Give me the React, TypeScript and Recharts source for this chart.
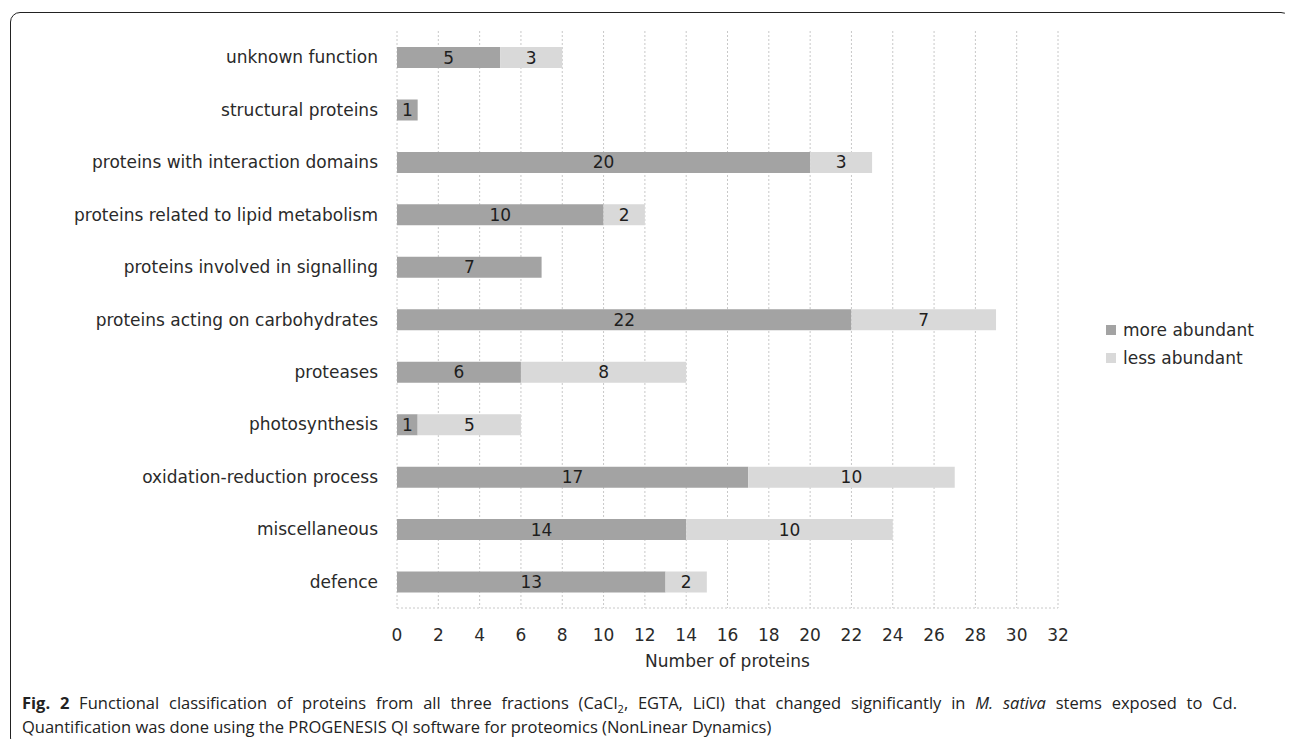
import { BarChart, Bar, XAxis, YAxis, CartesianGrid, Legend, LabelList } from 'recharts'

// functional classes, top to bottom
const categories = [
  'unknown function',
  'structural proteins',
  'proteins with interaction domains',
  'proteins related to lipid metabolism',
  'proteins involved in signalling',
  'proteins acting on carbohydrates',
  'proteases',
  'photosynthesis',
  'oxidation-reduction process',
  'miscellaneous',
  'defence',
]
const moreAbundant = [5, 1, 20, 10, 7, 22, 6, 1, 17, 14, 13]
const lessAbundant = [3, 0, 3, 2, 0, 7, 8, 5, 10, 10, 2]
const seriesNames = ['more abundant', 'less abundant']
const xTicks = [0, 2, 4, 6, 8, 10, 12, 14, 16, 18, 20, 22, 24, 26, 28, 30, 32]

const rows = categories.map((name, i) => ({ name, more: moreAbundant[i], less: lessAbundant[i] }))

const FONT = '"DejaVu Sans", Verdana, sans-serif'
const DARK = '#a3a3a3'
const LIGHT = '#d9d9d9'
const TEXT = '#2a2a2a'

const hideZero = (v: any) => (v ? v : '')

// keep legend rows in series order (recharts reverses them for vertical stacks)
function LegendBox({ payload }: any) {
  const items = [...(payload || [])].sort((a: any, b: any) => seriesNames.indexOf(a.value) - seriesNames.indexOf(b.value))
  return (
    <div style={{ fontFamily: FONT, fontSize: 17, color: TEXT }}>
      {items.map((p: any) => (
        <div key={p.value} style={{ display: 'flex', alignItems: 'center', height: 28 }}>
          <span style={{ width: 10, height: 10, background: p.color, marginRight: 7, display: 'inline-block' }} />
          {p.value}
        </div>
      ))}
    </div>
  )
}

export default function App() {
  return (
    <div style={{ position: 'relative', width: 1293, height: 747, background: '#fff', margin: -8, overflow: 'hidden' }}>
      <BarChart
        width={1293}
        height={747}
        data={rows}
        layout="vertical"
        barSize={21}
        margin={{ top: 31, right: 235, bottom: 99, left: 0 }}
      >
        <CartesianGrid horizontal={false} stroke="#c8c8c8" strokeDasharray="2 2" />
        <XAxis
          type="number"
          domain={[0, 32]}
          ticks={xTicks}
          height={40}
          tickLine={false}
          tickMargin={15}
          axisLine={{ stroke: '#c8c8c8', strokeDasharray: '2 2' }}
          tick={{ fontFamily: FONT, fontSize: 17, fill: TEXT }}
          label={{ value: 'Number of proteins', position: 'bottom', offset: 7, fontFamily: FONT, fontSize: 17, fill: TEXT }}
        />
        <YAxis
          type="category"
          dataKey="name"
          width={397}
          axisLine={false}
          tickLine={false}
          tickMargin={13}
          tick={{ fontFamily: FONT, fontSize: 17, fill: TEXT }}
        />
        <Legend
          layout="horizontal"
          verticalAlign="middle"
          align="center"
          content={<LegendBox />}
          wrapperStyle={{ position: 'absolute', left: 1106, top: 316, width: 180 }}
        />
        <Bar dataKey="more" name={seriesNames[0]} stackId="a" fill={DARK} isAnimationActive={false}>
          <LabelList dataKey="more" position="center" formatter={hideZero} fill="#1e1e1e" fontFamily={FONT} fontSize={17} />
        </Bar>
        <Bar dataKey="less" name={seriesNames[1]} stackId="a" fill={LIGHT} isAnimationActive={false}>
          <LabelList dataKey="less" position="center" formatter={hideZero} fill="#1e1e1e" fontFamily={FONT} fontSize={17} />
        </Bar>
      </BarChart>

      <div
        style={{
          position: 'absolute',
          left: 22,
          top: 691,
          width: 1215,
          fontFamily: '"Open Sans", sans-serif',
          fontSize: 16.5,
          lineHeight: '24px',
          color: '#222',
        }}
      >
        <div style={{ textAlign: 'justify', textAlignLast: 'justify' }}>
          <b>Fig. 2</b> Functional classification of proteins from all three fractions (CaCl<sub style={{ fontSize: 11, lineHeight: 0 }}>2</sub>, EGTA, LiCl) that changed significantly in <i>M. sativa</i> stems exposed to Cd.
        </div>
        <div>Quantification was done using the PROGENESIS QI software for proteomics (NonLinear Dynamics)</div>
      </div>

      <div
        style={{
          position: 'absolute',
          left: 10,
          top: 12,
          width: 1281,
          height: 736,
          border: '1.5px solid #222',
          borderRadius: 10,
          boxSizing: 'border-box',
          pointerEvents: 'none',
        }}
      />
    </div>
  )
}
